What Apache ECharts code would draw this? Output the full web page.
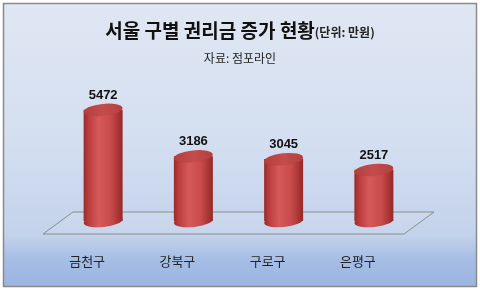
<!DOCTYPE html>
<html><head><meta charset="utf-8">
<script src="https://cdn.jsdelivr.net/npm/echarts@6/dist/echarts.min.js"></script>
<style>html,body{margin:0;padding:0;background:#fff}#c{width:480px;height:291px}</style>
</head><body><div id="c"></div>
<script>
const categories = ['금천구', '강북구', '구로구', '은평구'];
const values = [5472, 3186, 3045, 2517];
const titleMain = '서울 구별 권리금 증가 현황';
const titleUnit = '(단위: 만원)';
const subtitle = '자료: 점포라인';

const chart = echarts.init(document.getElementById('c'), null, {renderer: 'canvas'});
const bodyGrad = new echarts.graphic.LinearGradient(0, 0, 1, 0, [
  {offset: 0, color: '#9a2a2a'},
  {offset: 0.12, color: '#bb3c3c'},
  {offset: 0.38, color: '#d65a5a'},
  {offset: 0.7, color: '#c84a4a'},
  {offset: 1, color: '#952828'}
]);
const topGrad = new echarts.graphic.LinearGradient(0, 0, 1, 0, [
  {offset: 0, color: '#b43e3e'},
  {offset: 0.5, color: '#c44c4c'},
  {offset: 1, color: '#b24040'}
]);
const W = 39, EH = 12;
chart.setOption({
  animation: false,
  title: {
    text: '{a|' + titleMain + '}{b|' + titleUnit + '}',
    subtext: subtitle,
    left: 'center', top: 16, itemGap: 12,
    textStyle: {
      rich: {
        a: {fontFamily: 'Noto Sans CJK KR', fontSize: 19, fontWeight: 'bold', color: '#111'},
        b: {fontFamily: 'Noto Sans CJK KR', fontSize: 12, color: '#222', padding: [4, 0, 0, 0]}
      }
    },
    subtextStyle: {fontFamily: 'Noto Sans CJK KR', fontSize: 12, color: '#222'}
  },
  graphic: [
    {type: 'rect', z: -10, silent: true,
     shape: {x: 3.5, y: 3.5, width: 473, height: 283},
     style: {
       fill: new echarts.graphic.LinearGradient(0, 0, 0, 1, [
         {offset: 0, color: '#e0e7f3'},
         {offset: 0.5, color: '#d3def0'},
         {offset: 0.82, color: '#c3d2eb'},
         {offset: 0.9, color: '#a6bee5'},
         {offset: 1, color: '#9bb5e1'}
       ]),
       stroke: '#8a8a8a', lineWidth: 1.5
     }},
    {type: 'polygon', z: -5, silent: true,
     shape: {points: [[73, 212], [434, 212], [404, 234], [43, 234]]},
     style: {fill: 'rgba(255,255,255,0.08)', stroke: '#8c8c8c', lineWidth: 1}}
  ],
  grid: {left: 58, width: 361, top: 99, height: 122},
  xAxis: {
    type: 'category', data: categories,
    axisLine: {show: false}, axisTick: {show: false},
    axisLabel: {fontFamily: 'Noto Sans CJK KR', fontSize: 13, color: '#222', margin: 34, padding: [0, 32, 0, 0]}
  },
  yAxis: {type: 'value', min: 0, max: 6000, show: false, splitLine: {show: false}},
  series: [
    {type: 'pictorialBar', data: values, symbol: 'circle', symbolSize: [W, EH],
     symbolOffset: [0, '50%'], symbolRotate: 6, z: 1,
     itemStyle: {color: bodyGrad}},
    {type: 'bar', data: values, barWidth: W, z: 2,
     itemStyle: {color: bodyGrad}},
    {type: 'pictorialBar', data: values, symbol: 'circle', symbolSize: [W, EH],
     symbolPosition: 'end', symbolOffset: [0, '-50%'], symbolRotate: 6, z: 3,
     itemStyle: {color: topGrad, borderColor: '#a83636', borderWidth: 0.5},
     label: {show: true, position: 'top', distance: 2, fontFamily: 'Liberation Sans', fontWeight: 'bold', fontSize: 13, color: '#111'}}
  ]
});
</script></body></html>
